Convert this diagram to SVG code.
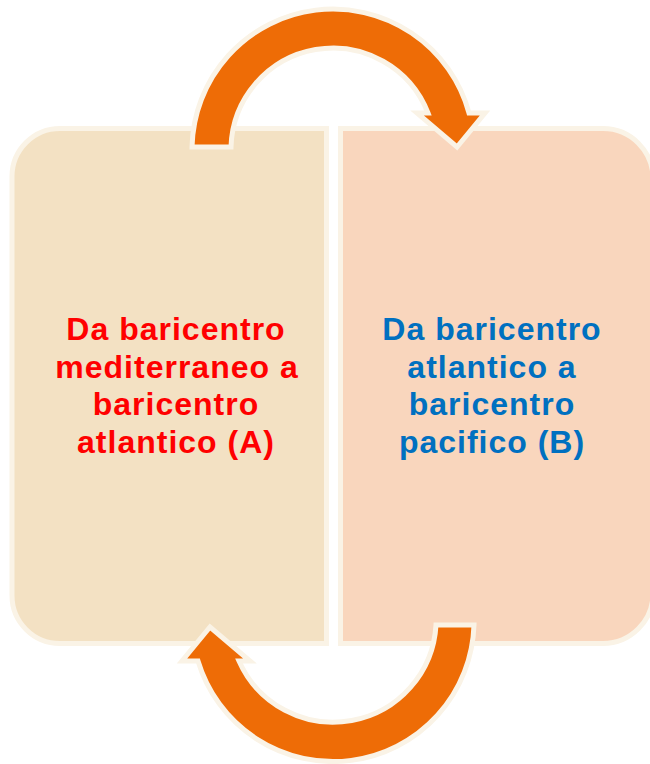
<svg xmlns="http://www.w3.org/2000/svg" width="650" height="764" viewBox="0 0 650 764">
<style>
.box{stroke:#FAF3E6;stroke-width:5}
.arrow{fill:#EE6C06;stroke:#FAF3E6;stroke-width:5;stroke-linejoin:miter}
.lbl{font-family:"Liberation Sans",Arial,sans-serif;font-weight:bold;font-size:32px;letter-spacing:1px;text-anchor:middle}
</style>
<rect width="650" height="764" fill="#FFFFFF"/>
<g id="nodeA">
<path class="box" fill="#F3E1C3" d="M 12,176 A 48 48 0 0 1 60,128.5 L 326.5,128.5 L 326.5,643.5 L 60,643.5 A 48 48 0 0 1 12,595.5 Z"/>
<text class="lbl" fill="#FF0000"><tspan x="176" y="340">Da baricentro</tspan><tspan x="177" y="377.5">mediterraneo a</tspan><tspan x="176" y="415">baricentro</tspan><tspan x="176" y="452.5">atlantico (A)</tspan></text>
</g>
<g id="nodeB">
<path class="box" fill="#F9D6BD" d="M 340.5,128.5 L 603,128.5 A 50 50 0 0 1 653,178.5 L 653,593.5 A 50 50 0 0 1 603,643.5 L 340.5,643.5 Z"/>
<text class="lbl" fill="#0070C0"><tspan x="492" y="340">Da baricentro</tspan><tspan x="492" y="377.5">atlantico a</tspan><tspan x="492" y="415">baricentro</tspan><tspan x="492" y="452.5">pacifico (B)</tspan></text>
</g>
<g id="connectors">
<path class="arrow" d="M 192,147 A 141 141 0 0 1 469,113 L 485,113 L 457,147 L 417,113 L 428,113 A 102 102 0 0 0 231,147 Z"/>
<path class="arrow" d="M 474,625 A 141 141 0 0 1 198,661 L 182,661 L 210,627 L 250,661 L 239,661 A 103 103 0 0 0 436,625 Z"/>
</g>
</svg>
